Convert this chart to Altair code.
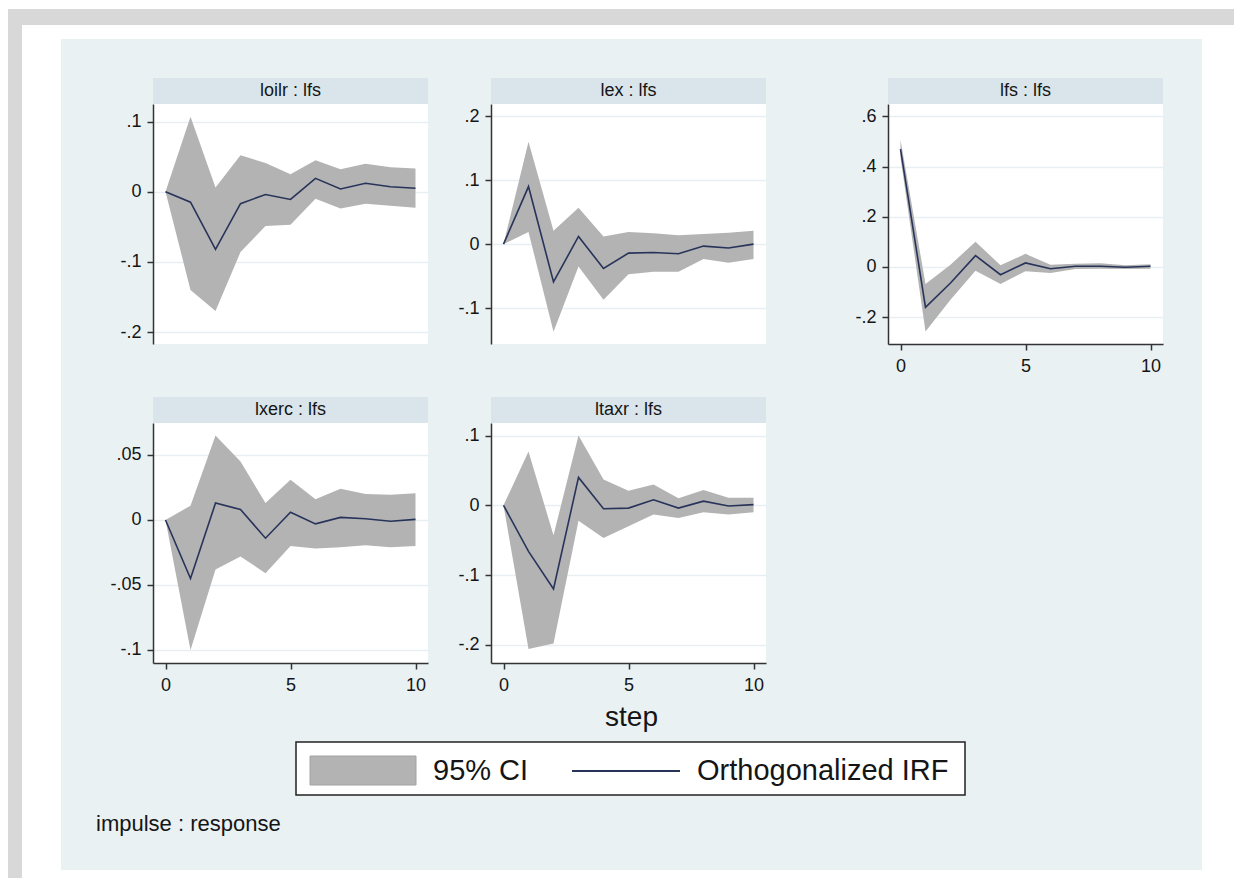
import altair as alt
import pandas as pd

# ---------------- data ----------------
steps = [0, 1, 2, 3, 4, 5, 6, 7, 8, 9, 10]
impulses = ["loilr", "lex", "lfs", "lxerc", "ltaxr"]
response = "lfs"

irf_loilr = [0, -0.015, -0.082, -0.017, -0.004, -0.011, 0.019, 0.004, 0.012, 0.007, 0.005]
up_loilr = [0, 0.107, 0.006, 0.052, 0.041, 0.025, 0.045, 0.032, 0.040, 0.035, 0.033]
lo_loilr = [0, -0.140, -0.170, -0.086, -0.049, -0.047, -0.010, -0.024, -0.017, -0.020, -0.023]

irf_lex = [0, 0.090, -0.059, 0.012, -0.038, -0.014, -0.013, -0.015, -0.003, -0.006, 0.0]
up_lex = [0, 0.160, 0.021, 0.057, 0.012, 0.019, 0.017, 0.014, 0.016, 0.018, 0.021]
lo_lex = [0, 0.019, -0.137, -0.035, -0.087, -0.047, -0.043, -0.043, -0.023, -0.029, -0.023]

irf_lfs = [0.469, -0.161, -0.064, 0.045, -0.031, 0.016, -0.007, 0.003, 0.003, -0.001, 0.003]
up_lfs = [0.507, -0.068, 0.009, 0.100, 0.007, 0.052, 0.009, 0.013, 0.015, 0.007, 0.011]
lo_lfs = [0.436, -0.257, -0.131, -0.015, -0.068, -0.017, -0.024, -0.008, -0.007, -0.008, -0.007]

irf_lxerc = [0, -0.045, 0.013, 0.008, -0.014, 0.006, -0.003, 0.002, 0.001, -0.001, 0.0005]
up_lxerc = [0, 0.011, 0.065, 0.045, 0.013, 0.031, 0.016, 0.024, 0.020, 0.0195, 0.0205]
lo_lxerc = [0, -0.100, -0.038, -0.028, -0.041, -0.020, -0.022, -0.021, -0.0195, -0.021, -0.020]

irf_ltaxr = [0, -0.066, -0.120, 0.040, -0.005, -0.004, 0.008, -0.004, 0.006, -0.001, 0.001]
up_ltaxr = [0, 0.077, -0.043, 0.100, 0.037, 0.021, 0.030, 0.010, 0.022, 0.011, 0.011]
lo_ltaxr = [0, -0.206, -0.198, -0.022, -0.047, -0.030, -0.013, -0.018, -0.010, -0.013, -0.010]

yticks_loilr = [-0.2, -0.1, 0, 0.1]
yticks_lex = [-0.1, 0, 0.1, 0.2]
yticks_lfs = [-0.2, 0, 0.2, 0.4, 0.6]
yticks_lxerc = [-0.1, -0.05, 0, 0.05]
yticks_ltaxr = [-0.2, -0.1, 0, 0.1]
xticks = [0, 5, 10]

legend_labels = ["95% CI", "Orthogonalized IRF"]
x_title = "step"
note_text = "impulse : response"

# ---------------- style ----------------
BG = "#eaf1f3"
HEADER = "#d9e5eb"
FRAME = "#d8d8d8"
CI = "#b3b3b3"
LINE = "#28335a"
AXIS = "#333333"
TEXT = "#151515"
GRIDC = "#e8eff2"
FONT = "Liberation Sans"

PW, PH, HH = 275, 240, 26
BLUE_W = 1141
LABEL_EXPR = "replace('' + datum.value, regexp('^(-?)0[.]'), '$1.')"


def one(value):
    return pd.DataFrame({"v": [value]})


def spacer(w, h):
    return alt.Chart(one(0)).mark_point(opacity=0, size=1).properties(
        width=w, height=h, view=alt.ViewBackground(stroke=None)
    )


def panel(name, irf, lo, hi, ydom, yvals, show_x):
    df = pd.DataFrame({"step": steps, "irf": irf, "lower": lo, "upper": hi})
    xscale = alt.Scale(domain=[-0.5, 10.5], nice=False, zero=False)
    yscale = alt.Scale(domain=ydom, nice=False, zero=False)
    if show_x:
        xaxis = alt.Axis(values=xticks, format="d", grid=False, title=None,
                         domainColor=AXIS, domainWidth=1.5, tickColor=AXIS,
                         tickWidth=1.5, tickSize=6, labelPadding=7,
                         labelFontSize=18, labelColor=TEXT, labelFont=FONT)
    else:
        xaxis = None
    yaxis = alt.Axis(values=yvals, labelExpr=LABEL_EXPR, grid=True,
                     gridColor=GRIDC, gridWidth=1.5, title=None,
                     domainColor=AXIS, domainWidth=1.5, tickColor=AXIS,
                     tickWidth=1.5, tickSize=6, labelPadding=6,
                     labelFontSize=18, labelColor=TEXT, labelFont=FONT)
    base = alt.Chart(df)
    area = base.mark_area(color=CI, opacity=1).encode(
        x=alt.X("step:Q", scale=xscale, axis=xaxis),
        y=alt.Y("lower:Q", scale=yscale, axis=yaxis),
        y2="upper:Q",
    )
    line = base.mark_line(color=LINE, strokeWidth=1.6).encode(
        x=alt.X("step:Q", scale=xscale, axis=xaxis),
        y=alt.Y("irf:Q", scale=yscale, axis=yaxis),
    )
    hdf = pd.DataFrame({"label": [f"{name} : {response}"]})
    hrect = alt.Chart(hdf).mark_rect(color=HEADER).encode(
        x=alt.value(0), x2=alt.value(PW), y=alt.value(-HH), y2=alt.value(0)
    )
    htext = alt.Chart(hdf).mark_text(fontSize=18, color=TEXT, font=FONT).encode(
        x=alt.value(PW / 2), y=alt.value(-HH / 2), text="label:N"
    )
    return alt.layer(hrect, area, line, htext).properties(
        width=PW, height=PH, view=alt.ViewBackground(fill="white", stroke=None)
    )


p1 = panel(impulses[0], irf_loilr, lo_loilr, up_loilr, [-0.217, 0.125], yticks_loilr, False)
p2 = panel(impulses[1], irf_lex, lo_lex, up_lex, [-0.156, 0.219], yticks_lex, False)
p3 = panel(impulses[2], irf_lfs, lo_lfs, up_lfs, [-0.307, 0.649], yticks_lfs, True)
p4 = panel(impulses[3], irf_lxerc, lo_lxerc, up_lxerc, [-0.110, 0.0746], yticks_lxerc, True)
p5 = panel(impulses[4], irf_ltaxr, lo_ltaxr, up_ltaxr, [-0.226, 0.118], yticks_ltaxr, True)

grid = alt.concat(
    spacer(92, 1), p1, spacer(63, 1), p2, spacer(122, 1), p3,
    spacer(92, 1), p4, spacer(63, 1), p5,
    columns=6, spacing={"row": 79, "column": 0}, bounds="flush", align="each",
)

step_unit = alt.Chart(pd.DataFrame({"t": [x_title]})).mark_text(
    fontSize=28, font=FONT, color=TEXT
).encode(text="t:N").properties(
    width=BLUE_W, height=47, view=alt.ViewBackground(stroke=None)
)

# legend box
ldf0 = pd.DataFrame({"label": [legend_labels[0]]})
ldf1 = pd.DataFrame({"label": [legend_labels[1]]})
lbox = alt.Chart(one(0)).mark_rect(fill="white", stroke="#222222", strokeWidth=1.5).encode(
    x=alt.value(235), x2=alt.value(904), y=alt.value(0), y2=alt.value(53)
)
lswatch = alt.Chart(one(0)).mark_rect(fill=CI, stroke="#a3a3a3", strokeWidth=1).encode(
    x=alt.value(249), x2=alt.value(355), y=alt.value(14), y2=alt.value(43)
)
ltext0 = alt.Chart(ldf0).mark_text(fontSize=29, font=FONT, color=TEXT, align="left").encode(
    x=alt.value(372), y=alt.value(29), text="label:N"
)
lrule = alt.Chart(one(0)).mark_rule(color=LINE, strokeWidth=2).encode(
    x=alt.value(511), x2=alt.value(619), y=alt.value(29)
)
ltext1 = alt.Chart(ldf1).mark_text(fontSize=29, font=FONT, color=TEXT, align="left").encode(
    x=alt.value(636), y=alt.value(29), text="label:N"
)
legend_unit = alt.layer(lbox, lswatch, ltext0, lrule, ltext1).properties(
    width=BLUE_W, height=53, view=alt.ViewBackground(stroke=None)
)

note_unit = alt.Chart(pd.DataFrame({"t": [note_text]})).mark_text(
    fontSize=22, font=FONT, color=TEXT, align="left"
).encode(x=alt.value(35), y=alt.value(28), text="t:N").properties(
    width=BLUE_W, height=73, view=alt.ViewBackground(stroke=None)
)

M = alt.vconcat(spacer(BLUE_W, 39), grid, step_unit, legend_unit, note_unit, spacing=0)


def frame_strip(w, h, rects):
    layers = [
        alt.Chart(one(0)).mark_rect(color=FRAME).encode(
            x=alt.value(r[0]), x2=alt.value(r[1]), y=alt.value(r[2]), y2=alt.value(r[3])
        )
        for r in rects
    ]
    if not layers:
        layers = [alt.Chart(one(0)).mark_point(opacity=0, size=1)]
    return alt.layer(*layers).properties(
        width=w, height=h, view=alt.ViewBackground(fill="white", stroke=None)
    )


top_strip = frame_strip(1226, 31, [(0, 1226, 1, 17), (0, 14, 17, 31)])
left_strip = frame_strip(53, 831, [(0, 14, 0, 831)])
right_strip = frame_strip(32, 831, [])
bottom_strip = frame_strip(1226, 8, [(0, 14, 0, 8)])

middle = alt.hconcat(left_strip, M, right_strip, spacing=0)

chart = alt.vconcat(top_strip, middle, bottom_strip, spacing=0).properties(
    background=BG, padding=0
).configure_view(stroke=None).configure(font=FONT)

chart.save("out.html", embed_options={"renderer": "svg", "actions": False})
